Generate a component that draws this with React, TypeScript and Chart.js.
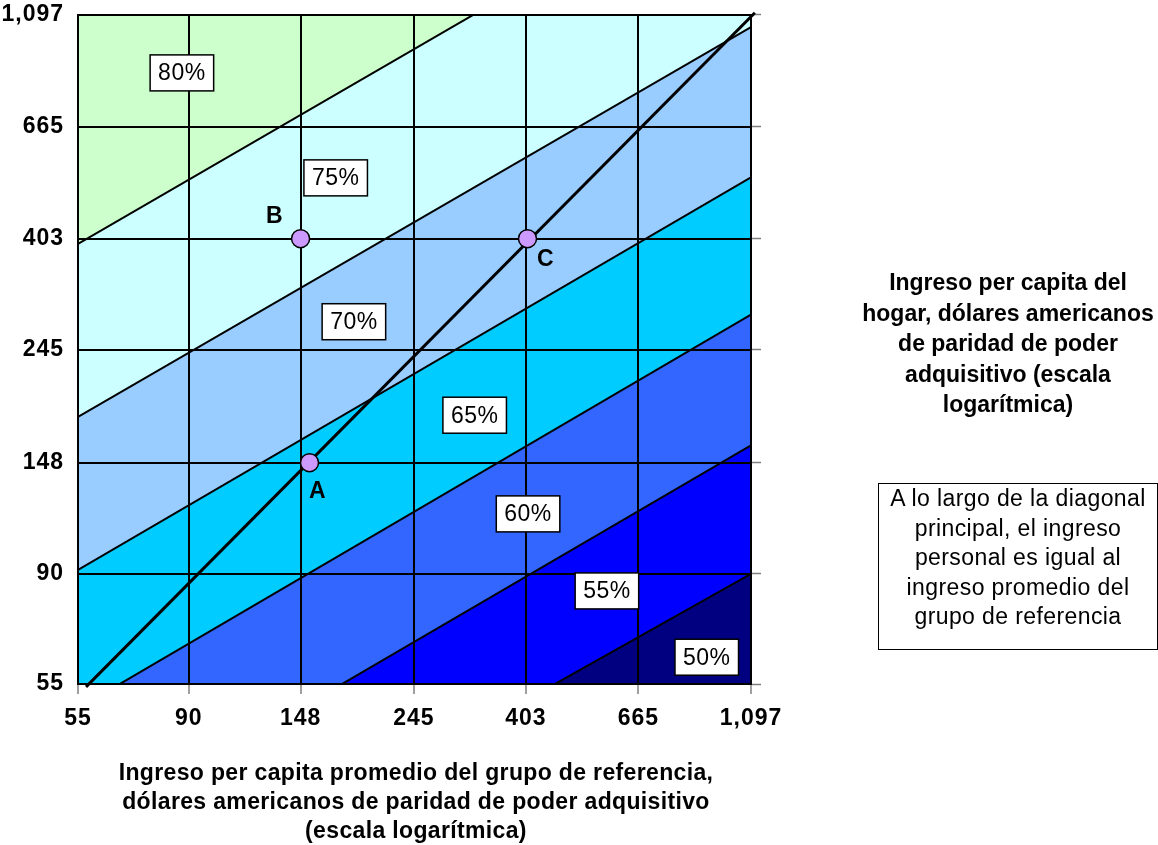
import React, { useEffect, useRef } from "react";
import { Chart, registerables } from "chart.js";

Chart.register(...registerables);

// ---- data ----
const TICKS = [55, 90, 148, 245, 403, 665, 1097];

// iso-lines (boundaries between bands), given at x = 55 and x = 1097
const LINE_X = [55, 1097];
const B50_55 = [16.6, 90];
const B55_60 = [27.6, 160];
const B60_65 = [49.3, 287];
const B65_70 = [91.6, 530];
const B70_75 = [181.6, 1038];
const B75_80 = [393.7, 2253];

// diagonal (personal income = reference group income)
const DIAG_X = [57, 1116];
const DIAG_Y = [54.3, 1107];

// band labels
const BAND_LABELS = ["80%", "75%", "70%", "65%", "60%", "55%", "50%"];
const LABEL_X = [87.3, 173, 187.6, 321, 407, 578, 901];
const LABEL_Y = [846, 529, 278, 183, 117.7, 83.4, 62];

// marked points
const POINT_NAMES = ["A", "B", "C"];
const POINT_X = [154, 148, 406];
const POINT_Y = [148, 403, 403];

const X_TITLE = [
  "Ingreso per capita promedio del grupo de referencia,",
  "dólares americanos de paridad de poder adquisitivo",
  "(escala logarítmica)",
];
const Y_TITLE = [
  "Ingreso per capita del",
  "hogar, dólares americanos",
  "de paridad de poder",
  "adquisitivo (escala",
  "logarítmica)",
];
const NOTE = [
  "A lo largo de la diagonal",
  "principal, el ingreso",
  "personal es igual al",
  "ingreso promedio del",
  "grupo de referencia",
];
const TOP_TITLE = "Satisfacción según ingreso per capita propio y ingreso promedio del grupo";

const FONT = '"Liberation Sans", Arial, sans-serif';

const POINT_LABEL_OFFSETS = [
  [8, 29],
  [-26, -22],
  [18, 21],
];

const pts = (xs: number[], ys: number[]) => xs.map((x, i) => ({ x, y: ys[i] }));

const fmt = (v: number | string) => Number(v).toLocaleString("en-US");

const setTicks = (scale: any) => {
  scale.ticks = TICKS.map((v) => ({ value: v }));
};

const spacingPlugin = {
  id: "spacing",
  beforeDraw(chart: any) {
    try {
      (chart.ctx as any).letterSpacing = "1px";
    } catch (e) {}
  },
  afterDatasetsDraw(chart: any) {
    try {
      (chart.ctx as any).letterSpacing = "0px";
    } catch (e) {}
  },
};

const labelPlugin = {
  id: "bandLabels",
  afterDatasetsDraw(chart: any) {
    const { ctx, scales } = chart;
    const x = scales.x;
    const y = scales.y;
    ctx.save();
    try {
      (ctx as any).letterSpacing = "0.5px";
    } catch (e) {}
    ctx.font = `23px ${FONT}`;
    ctx.textAlign = "center";
    ctx.textBaseline = "middle";
    BAND_LABELS.forEach((t, i) => {
      const px = x.getPixelForValue(LABEL_X[i]);
      const py = y.getPixelForValue(LABEL_Y[i]);
      const w = ctx.measureText(t).width + 16;
      const h = 36;
      ctx.fillStyle = "#ffffff";
      ctx.fillRect(px - w / 2, py - h / 2, w, h);
      ctx.strokeStyle = "#000000";
      ctx.lineWidth = 1.5;
      ctx.strokeRect(px - w / 2, py - h / 2, w, h);
      ctx.fillStyle = "#000000";
      ctx.fillText(t, px, py + 1);
    });
    ctx.font = `bold 23px ${FONT}`;
    POINT_NAMES.forEach((n, i) => {
      const px = x.getPixelForValue(POINT_X[i]) + POINT_LABEL_OFFSETS[i][0];
      const py = y.getPixelForValue(POINT_Y[i]) + POINT_LABEL_OFFSETS[i][1];
      ctx.fillStyle = "#000000";
      ctx.fillText(n, px, py);
    });
    ctx.restore();
  },
};

export default function App() {
  const ref = useRef<HTMLCanvasElement | null>(null);

  useEffect(() => {
    if (!ref.current) return;
    const boundary = (ys: number[], color: string, fill: any, bw = 2) => ({
      data: pts(LINE_X, ys),
      borderColor: "#000000",
      borderWidth: bw,
      backgroundColor: color,
      fill,
      pointRadius: 0,
      tension: 0,
    });
    const chart = new Chart(ref.current, {
      type: "line",
      data: {
        datasets: [
          // index 0: diagonal (drawn on top via order)
          {
            data: pts(DIAG_X, DIAG_Y),
            borderColor: "#000000",
            borderWidth: 3,
            fill: false,
            pointRadius: 0,
            clip: 12,
            order: -1,
          } as any,
          // index 1: marked points
          {
            data: pts(POINT_X, POINT_Y),
            showLine: false,
            fill: false,
            pointRadius: 9,
            pointBackgroundColor: "#cc99ff",
            pointBorderColor: "#000000",
            pointBorderWidth: 1.5,
            order: -2,
          } as any,
          // index 2..: iso-lines with band fills
          boundary(B50_55, "#000080", "start"),
          boundary(B55_60, "#0000ff", "-1"),
          boundary(B60_65, "#3366ff", "-1"),
          boundary(B65_70, "#00ccff", "-1"),
          boundary(B70_75, "#99ccff", "-1"),
          boundary(B75_80, "#ccffff", "-1"),
          boundary(B75_80, "#ccffcc", "end", 0),
        ],
      },
      options: {
        responsive: false,
        devicePixelRatio: 1,
        animation: false,
        events: [],
        layout: { padding: { left: 0, top: 2, right: 397, bottom: 101 } },
        plugins: {
          legend: { display: false },
          tooltip: { enabled: false },
          filler: { drawTime: "beforeDraw" } as any,
        },
        scales: {
          x: {
            type: "logarithmic",
            position: "bottom",
            min: 55,
            max: 1097,
            afterBuildTicks: setTicks,
            afterFit: (s: any) => {
              s.height = 60;
            },
            ticks: {
              callback: (v: any) => fmt(v),
              color: "#000000",
              font: { family: FONT, size: 23, weight: "bold" },
              padding: 11,
              maxRotation: 0,
              autoSkip: false,
            },
            grid: {
              color: "#000000",
              lineWidth: 2,
              drawTicks: true,
              tickLength: 10,
              tickColor: "#808080",
              tickWidth: 1.5,
            },
            border: { display: true, color: "#000000", width: 2 },
          },
          y: {
            type: "logarithmic",
            position: "left",
            min: 55,
            max: 1097,
            afterBuildTicks: setTicks,
            afterFit: (s: any) => {
              s.width = 78;
            },
            ticks: {
              callback: (v: any) => fmt(v),
              color: "#000000",
              font: { family: FONT, size: 23, weight: "bold" },
              padding: 1,
              autoSkip: false,
            },
            grid: {
              color: "#000000",
              lineWidth: 2,
              drawTicks: true,
              tickLength: 13,
              tickColor: "rgba(0,0,0,0)",
            },
            border: { display: true, color: "#000000", width: 2 },
          },
          y2: {
            type: "logarithmic",
            position: "right",
            min: 55,
            max: 1097,
            afterBuildTicks: setTicks,
            afterFit: (s: any) => {
              s.width = 10;
            },
            ticks: { display: false, padding: 0 },
            grid: {
              drawOnChartArea: false,
              drawTicks: true,
              tickLength: 10,
              tickColor: "#808080",
              tickWidth: 1.5,
            },
            border: { display: true, color: "#000000", width: 2 },
          },
        } as any,
      },
      plugins: [spacingPlugin, labelPlugin],
    });
    return () => chart.destroy();
  }, []);

  const lines = (arr: string[]) =>
    arr.map((l, i) => (
      <React.Fragment key={i}>
        {l}
        {i < arr.length - 1 ? <br /> : null}
      </React.Fragment>
    ));

  return (
    <div
      style={{
        position: "absolute",
        left: 0,
        top: 0,
        width: 1158,
        height: 845,
        overflow: "hidden",
        background: "#ffffff",
        fontFamily: FONT,
        color: "#000000",
      }}
    >
      <canvas
        ref={ref}
        width={1158}
        height={845}
        style={{ position: "absolute", left: 0, top: 0, width: 1158, height: 845 }}
      />
      <div
        style={{
          position: "absolute",
          left: -10,
          width: 792,
          top: -25,
          textAlign: "center",
          fontWeight: "bold",
          fontSize: 22,
          lineHeight: "26px",
          whiteSpace: "nowrap",
        }}
      >
        {TOP_TITLE}
      </div>
      <div
        style={{
          position: "absolute",
          left: 856,
          width: 304,
          top: 267,
          textAlign: "center",
          fontWeight: "bold",
          fontSize: 23,
          lineHeight: "30.5px",
          whiteSpace: "nowrap",
        }}
      >
        {lines(Y_TITLE)}
      </div>
      <div
        style={{
          position: "absolute",
          left: 878,
          top: 483,
          width: 280,
          height: 167,
          boxSizing: "border-box",
          border: "1.5px solid #000000",
          textAlign: "center",
          fontSize: 23,
          letterSpacing: "0.4px",
          lineHeight: "29.5px",
          paddingTop: 0,
          whiteSpace: "nowrap",
        }}
      >
        {lines(NOTE)}
      </div>
      <div
        style={{
          position: "absolute",
          left: 16,
          width: 800,
          top: 758,
          textAlign: "center",
          fontWeight: "bold",
          fontSize: 23,
          letterSpacing: "0.35px",
          lineHeight: "29px",
          whiteSpace: "nowrap",
        }}
      >
        {lines(X_TITLE)}
      </div>
    </div>
  );
}
